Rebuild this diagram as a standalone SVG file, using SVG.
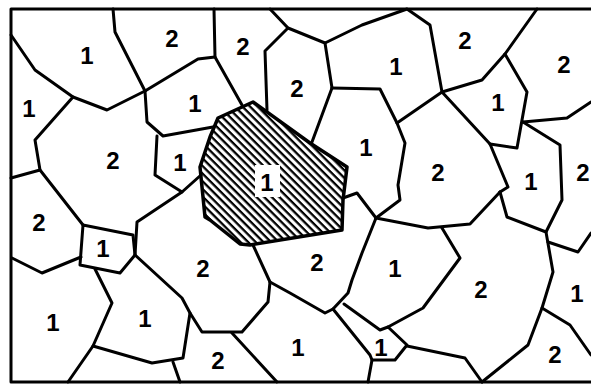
<svg xmlns="http://www.w3.org/2000/svg" width="591" height="385" viewBox="0 0 591 385">
<style>
.e{fill:none;stroke:#000;stroke-width:3;stroke-linejoin:round;stroke-linecap:round}
.t{font-family:"Liberation Sans",Arial,sans-serif;font-size:24px;font-weight:bold;text-anchor:middle;fill:#000}
</style>
<defs>
<pattern id="hatch" patternUnits="userSpaceOnUse" width="6" height="5.4" patternTransform="rotate(45)">
<rect x="0" y="0" width="6" height="2.3" fill="#000"/>
</pattern>
</defs>
<rect width="591" height="385" fill="#fff"/>
<g id="hatched-cell">
<polygon points="210,137 218,118 253,102 310,143 347,167 343,200 342,230 250,245 240,244 210,220 205,217 200,167" fill="url(#hatch)" stroke="#000" stroke-width="3.5" stroke-linejoin="round"/>
<rect x="255" y="165" width="25" height="32" fill="#fff"/>
</g>
<g id="frame">
<polyline class="e" points="591,9 11,9 11,382 591,382"/>
</g>
<g id="boundaries">
<polyline class="e" points="11,35 35,70 73,97 107,110 145,91"/>
<polyline class="e" points="113,9 115,32 145,91"/>
<polyline class="e" points="73,97 35,140 40,170 83,225"/>
<polyline class="e" points="11,178 40,170"/>
<polyline class="e" points="145,91 198,59 215,57"/>
<polyline class="e" points="214,9 215,57 242,105"/>
<polyline class="e" points="145,91 147,122 163,136 213,127"/>
<polyline class="e" points="157,136 155,175 182,192 201,175"/>
<polyline class="e" points="182,192 137,222 135,255"/>
<polyline class="e" points="83,225 133,235 135,255 120,273 80,265 83,225"/>
<polyline class="e" points="12,258 42,273 81,257"/>
<polyline class="e" points="95,269 112,303 93,346 68,382"/>
<polyline class="e" points="93,346 152,363 183,358 190,313 182,298 135,255"/>
<polyline class="e" points="173,362 180,382"/>
<polyline class="e" points="190,313 202,332 242,332 268,302 270,282 253,245"/>
<polyline class="e" points="270,282 290,293 325,313 333,309 348,293 352,280 362,253 376,218"/>
<polyline class="e" points="232,333 277,382"/>
<polyline class="e" points="333,309 370,355 372,360 368,382"/>
<polyline class="e" points="344,304 380,330 388,327 407,345 395,360 372,360"/>
<polyline class="e" points="388,327 423,308 460,258 442,228"/>
<polyline class="e" points="407,346 465,358 482,382"/>
<polyline class="e" points="376,218 428,228 470,224 500,192"/>
<polyline class="e" points="376,218 357,193 343,198"/>
<polyline class="e" points="376,218 400,200 398,185 405,143 397,123 380,89 332,88"/>
<polyline class="e" points="332,88 312,142"/>
<polyline class="e" points="332,88 325,43 288,28 270,9"/>
<polyline class="e" points="288,28 265,51 267,110"/>
<polyline class="e" points="325,43 362,25 407,9 430,25 442,92"/>
<polyline class="e" points="397,123 442,92 482,80 505,54 537,9"/>
<polyline class="e" points="442,92 490,144 508,187 500,192"/>
<polyline class="e" points="505,54 527,92 517,148 490,144"/>
<polyline class="e" points="523,122 567,118 591,102"/>
<polyline class="e" points="523,122 560,145 562,200 546,232"/>
<polyline class="e" points="500,192 507,217 546,232 553,272 542,308 528,345 482,382"/>
<polyline class="e" points="548,242 578,252 591,233"/>
<polyline class="e" points="542,308 570,325 591,355"/>
</g>
<g id="labels">
<text class="t" x="87" y="64">1</text>
<text class="t" x="172" y="47">2</text>
<text class="t" x="243" y="55">2</text>
<text class="t" x="297" y="97">2</text>
<text class="t" x="396" y="75">1</text>
<text class="t" x="465" y="49">2</text>
<text class="t" x="564" y="73">2</text>
<text class="t" x="498" y="111">1</text>
<text class="t" x="29" y="117">1</text>
<text class="t" x="195" y="112">1</text>
<text class="t" x="113" y="169">2</text>
<text class="t" x="180" y="171">1</text>
<text class="t" x="267" y="191">1</text>
<text class="t" x="366" y="156">1</text>
<text class="t" x="438" y="181">2</text>
<text class="t" x="531" y="190">1</text>
<text class="t" x="583" y="181">2</text>
<text class="t" x="39" y="231">2</text>
<text class="t" x="103" y="257">1</text>
<text class="t" x="203" y="277">2</text>
<text class="t" x="317" y="271">2</text>
<text class="t" x="395" y="277">1</text>
<text class="t" x="481" y="298">2</text>
<text class="t" x="577" y="302">1</text>
<text class="t" x="53" y="331">1</text>
<text class="t" x="145" y="327">1</text>
<text class="t" x="218" y="369">2</text>
<text class="t" x="298" y="356">1</text>
<text class="t" x="381" y="356">1</text>
<text class="t" x="555" y="363">2</text>
</g>
</svg>
